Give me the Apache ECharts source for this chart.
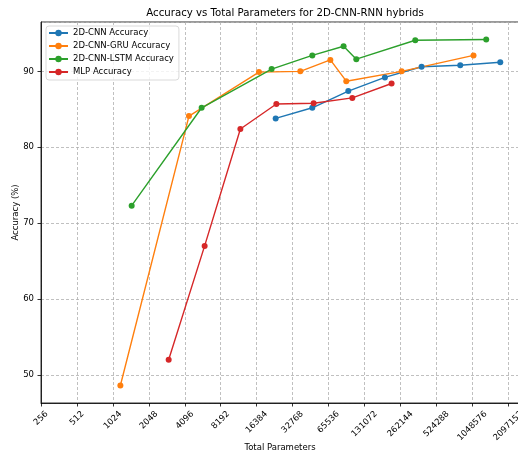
<!DOCTYPE html>
<html>
<head>
<meta charset="utf-8">
<script src="https://cdn.jsdelivr.net/npm/echarts@6/dist/echarts.min.js"></script>
<style>
  html, body { margin: 0; padding: 0; background: #fff; }
  #chart { width: 518px; height: 455px; }
</style>
</head>
<body>
<div id="chart"></div>
<script>
// Total parameter counts and accuracies (%) for each model family
const paramsCNN = [23650, 47930, 95970, 194400, 394500, 831000, 1799000];
const accCNN = [83.8, 85.2, 87.4, 89.2, 90.6, 90.8, 91.2];

const paramsGRU = [1183, 4441, 17130, 38030, 67900, 92300, 268400, 1074000];
const accGRU = [48.6, 84.1, 89.9, 90.0, 91.5, 88.7, 90.0, 92.1];

const paramsLSTM = [1471, 5672, 21870, 47930, 87640, 112000, 349200, 1372000];
const accLSTM = [72.3, 85.2, 90.3, 92.1, 93.3, 91.6, 94.1, 94.2];

const paramsMLP = [3003, 6010, 11970, 23960, 49170, 103700, 221200];
const accMLP = [52.0, 67.0, 82.4, 85.7, 85.8, 86.5, 88.4];

const seriesNames = ['2D-CNN Accuracy', '2D-CNN-GRU Accuracy', '2D-CNN-LSTM Accuracy', 'MLP Accuracy'];
const colors = ['#1f77b4', '#ff7f0e', '#2ca02c', '#d62728'];

// Power-of-two tick values shown on the parameter axis
const xTicks = [256, 512, 1024, 2048, 4096, 8192, 16384, 32768, 65536, 131072, 262144, 524288, 1048576, 2097152];
const yTicks = [50, 60, 70, 80, 90];

const FONT = 'DejaVu Sans';
const FS = 8.5;

// Rotated tick labels are centred under their tick; the padding shifts each
// label so its rotated bounding box hangs below the axis, whatever its length.
const digitW = 0.636 * FS;
const rich = {};
for (let n = 1; n <= 8; n++) {
  const w = n * digitW;
  rich['d' + n] = {
    fontFamily: FONT, fontSize: FS, color: '#000',
    padding: [w / 2, w / 2, 0, 0]
  };
}

function pairs(xs, ys) { return xs.map((x, i) => [x, ys[i]]); }
const dataSets = [
  pairs(paramsCNN, accCNN),
  pairs(paramsGRU, accGRU),
  pairs(paramsLSTM, accLSTM),
  pairs(paramsMLP, accMLP)
];

const chart = echarts.init(document.getElementById('chart'), null, { renderer: 'canvas' });

chart.setOption({
  animation: false,
  backgroundColor: '#fff',
  textStyle: { fontFamily: FONT },
  title: {
    text: 'Accuracy vs Total Parameters for 2D-CNN-RNN hybrids',
    left: 280, top: 3, textAlign: 'center',
    textStyle: { fontFamily: FONT, fontSize: 10.2, fontWeight: 'normal', color: '#000' }
  },
  grid: {
    left: 41, top: 22, right: -1, bottom: 52,
    outerBoundsMode: 'none',
    show: true, borderColor: '#000', borderWidth: 0.8, backgroundColor: 'transparent'
  },
  legend: {
    orient: 'vertical', left: 46, top: 26,
    padding: [2, 5, 3, 2],
    itemWidth: 19, itemHeight: 8, itemGap: 3,
    backgroundColor: 'rgba(255,255,255,0.8)',
    borderColor: '#d0d0d0', borderWidth: 0.8, borderRadius: 3,
    textStyle: { fontFamily: FONT, fontSize: FS, color: '#000', lineHeight: 10 },
    data: seriesNames
  },
  xAxis: {
    type: 'log', logBase: 2,
    min: 256, max: Math.pow(2, 21.3),
    interval: 1,
    name: 'Total Parameters', nameLocation: 'middle', nameGap: 40,
    nameMoveOverlap: false,
    nameTextStyle: { fontFamily: FONT, fontSize: FS, color: '#000', verticalAlign: 'top' },
    axisLine: { lineStyle: { color: '#000', width: 0.8 } },
    axisTick: { show: true, length: 3.5, lineStyle: { color: '#000', width: 0.8 } },
    axisLabel: {
      rotate: 45, align: 'center', verticalAlign: 'middle', margin: 9.5,
      rich: rich,
      formatter: function (v) {
        const r = Math.round(v);
        if (xTicks.indexOf(r) < 0 || Math.abs(v - r) > 1e-3 * r) return '';
        const s = String(r);
        return '{d' + s.length + '|' + s + '}';
      }
    },
    splitLine: { show: true, lineStyle: { color: '#b0b0b0', width: 0.8, type: [3, 2] } }
  },
  yAxis: {
    type: 'value', min: 46.3, max: 96.5, splitNumber: 5,
    name: 'Accuracy (%)', nameLocation: 'middle', nameGap: 21,
    nameMoveOverlap: false,
    nameTextStyle: { fontFamily: FONT, fontSize: FS, color: '#000' },
    axisLine: { show: true, lineStyle: { color: '#000', width: 0.8 } },
    axisTick: { show: true, length: 3.5, lineStyle: { color: '#000', width: 0.8 } },
    axisLabel: {
      fontFamily: FONT, fontSize: FS, color: '#000', margin: 7,
      showMinLabel: false, showMaxLabel: false,
      formatter: function (v) { return yTicks.indexOf(Math.round(v)) >= 0 && Math.abs(v - Math.round(v)) < 1e-6 ? String(Math.round(v)) : ''; }
    },
    splitLine: { show: true, lineStyle: { color: '#b0b0b0', width: 0.8, type: [3, 2] } }
  },
  series: seriesNames.map((name, i) => ({
    name: name,
    type: 'line',
    data: dataSets[i],
    color: colors[i],
    symbol: 'circle', symbolSize: 6,
    lineStyle: { width: 1.4, color: colors[i] },
    itemStyle: { color: colors[i] },
    emphasis: { disabled: true }
  }))
});
</script>
</body>
</html>
